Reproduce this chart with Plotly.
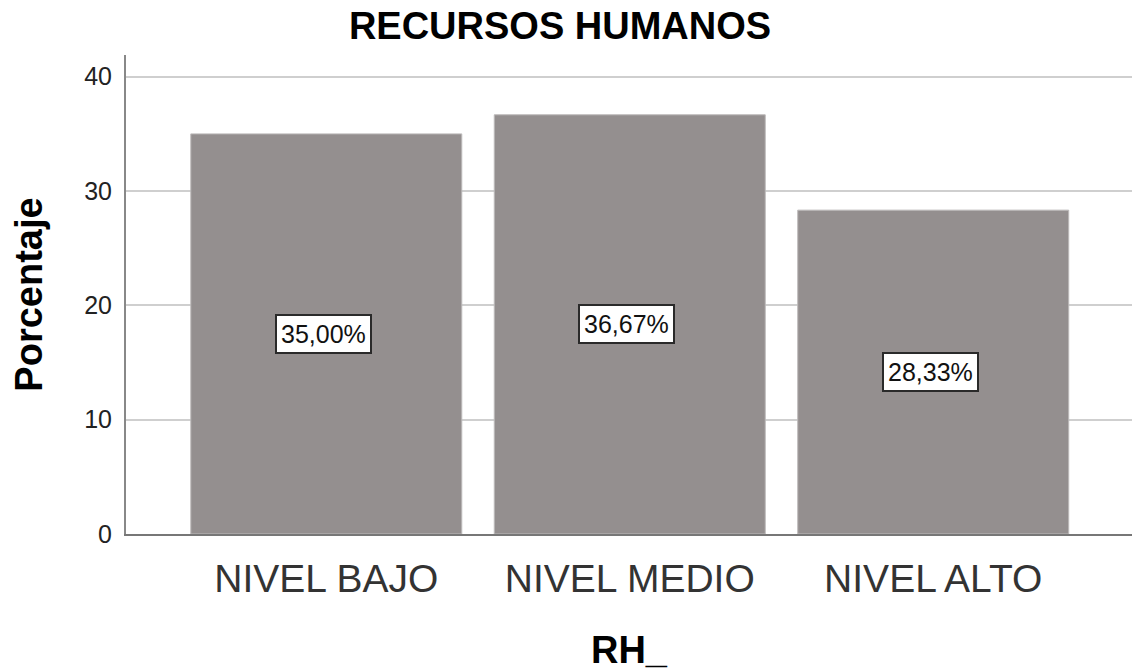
import plotly.graph_objects as go

categories = ["NIVEL BAJO", "NIVEL MEDIO", "NIVEL ALTO"]
values = [35.00, 36.67, 28.33]
labels = ["35,00%", "36,67%", "28,33%"]
y_ticks = [0, 10, 20, 30, 40]

FONT = "Liberation Sans, Arial"

fig = go.Figure()
fig.add_trace(go.Bar(
    x=[0, 1, 2], y=values, width=0.893,
    marker=dict(color="#948f8f", line=dict(width=1, color="#bdbaba")),
    hoverinfo="skip",
))

for i, (v, t) in enumerate(zip(values, labels)):
    fig.add_annotation(
        x=i - 0.01, y=v / 2, text=t, showarrow=False,
        font=dict(family=FONT, size=25, color="#111111"),
        bgcolor="white", bordercolor="#2a2a2a", borderwidth=2, borderpad=4,
    )

fig.update_layout(
    width=1132, height=672,
    margin=dict(l=126, r=0, t=55, b=138, autoexpand=False),
    paper_bgcolor="white", plot_bgcolor="white",
    showlegend=False,
    title=dict(text="<b>RECURSOS HUMANOS</b>", x=560 / 1132, xanchor="center",
               y=1 - 26 / 672, yanchor="middle",
               font=dict(family=FONT, size=38, color="black")),
    font=dict(family=FONT, color="black"),
)
fig.update_xaxes(
    range=[-0.66, 2.655],
    tickvals=[0, 1, 2], ticktext=categories,
    tickfont=dict(size=39, color="#333333"),
    ticks="", ticklabelstandoff=9,
    showgrid=False, zeroline=False,
    showline=True, linecolor="#777777", linewidth=2,
    automargin=False,
    title=dict(text="<b>RH_</b>", font=dict(size=38, color="black"), standoff=38),
)
fig.update_yaxes(
    range=[0, 41.9],
    tickvals=y_ticks,
    tickfont=dict(size=25, color="#222222"),
    ticks="", ticklabelstandoff=7,
    showgrid=True, gridcolor="#cfcfcf", gridwidth=2,
    zeroline=False,
    showline=True, linecolor="#888888", linewidth=2,
    automargin=False,
    title=dict(text="<b>Porcentaje</b>", font=dict(size=38, color="black"), standoff=30),
)

fig.write_html("out.html", config={"displayModeBar": False},
               post_script="document.body.style.margin='0';")
